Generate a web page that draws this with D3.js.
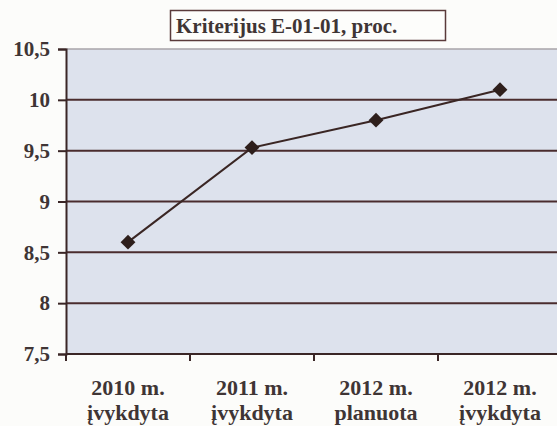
<!DOCTYPE html>
<html><head><meta charset="utf-8">
<script src="https://cdn.jsdelivr.net/npm/d3@7"></script>
<style>
html,body{margin:0;padding:0;background:#fcfcfa;}
svg{display:block;}
text{font-family:"Liberation Serif","DejaVu Serif",serif;font-weight:bold;fill:#3f3535;}
</style></head>
<body>
<svg id="chart" width="557" height="426"></svg>
<script>
const title = "Kriterijus E-01-01, proc.";
const categories = ["2010 m.\nįvykdyta", "2011 m.\nįvykdyta", "2012 m.\nplanuota", "2012 m.\nįvykdyta"];
const values = [8.6, 9.53, 9.8, 10.1];
const yTicks = [7.5, 8, 8.5, 9, 9.5, 10, 10.5];
const yTickLabels = ["7,5", "8", "8,5", "9", "9,5", "10", "10,5"];

const svg = d3.select("#chart");
const pL = 66, pR = 562, pT = 49, pB = 354;
const lineCol = "#3a2626";
const serif = "'Liberation Serif','DejaVu Serif',serif";

const x = d3.scaleBand().domain(categories).range([pL, pR]).padding(0);
const y = d3.scaleLinear().domain([7.5, 10.5]).range([pB, pT]);

// plot background
svg.append("rect").attr("x", pL).attr("y", pT)
  .attr("width", pR - pL).attr("height", pB - pT)
  .attr("fill", "#dde2ed");
// top border (light)
svg.append("line").attr("x1", pL).attr("x2", pR)
  .attr("y1", y(10.5)).attr("y2", y(10.5))
  .attr("stroke", "#a9a4a8").attr("stroke-width", 1.5);

// gridlines
svg.append("g").selectAll("line").data(yTicks.filter(t => t > 7.5 && t < 10.5))
  .join("line")
  .attr("x1", pL).attr("x2", pR)
  .attr("y1", d => y(d)).attr("y2", d => y(d))
  .attr("stroke", "#4a2c2e").attr("stroke-width", 2);

// y axis
const yAxis = d3.axisLeft(y).tickValues(yTicks)
  .tickFormat((d, i) => yTickLabels[i]).tickSize(8).tickPadding(8);
const yg = svg.append("g").attr("transform", `translate(${pL},0)`).call(yAxis)
  .attr("font-family", serif).attr("font-size", 21);
yg.select(".domain").attr("stroke", lineCol).attr("stroke-width", 2);
yg.selectAll(".tick line").attr("stroke", lineCol).attr("stroke-width", 2);
yg.selectAll(".tick text").style("font-size", "21px")
  .style("font-family", serif).style("font-weight", "bold")
  .style("fill", "#3f3535");

// x axis baseline & boundary ticks
svg.append("line").attr("x1", pL).attr("x2", pR)
  .attr("y1", pB).attr("y2", pB)
  .attr("stroke", lineCol).attr("stroke-width", 2);
svg.append("g").selectAll("line").data(categories)
  .join("line")
  .attr("x1", d => x(d)).attr("x2", d => x(d))
  .attr("y1", pB).attr("y2", pB + 7)
  .attr("stroke", lineCol).attr("stroke-width", 2);

// x labels
const xl = svg.append("g").selectAll("text").data(categories).join("text")
  .attr("text-anchor", "middle")
  .attr("x", d => x(d) + x.bandwidth() / 2)
  .attr("y", 395)
  .style("font-size", "22px");
xl.each(function(d) {
  const parts = d.split("\n");
  d3.select(this).selectAll("tspan").data(parts).join("tspan")
    .attr("x", x(d) + x.bandwidth() / 2)
    .attr("dy", (p, i) => i === 0 ? 0 : 25)
    .text(p => p);
});

// line
const line = d3.line()
  .x((d, i) => x(categories[i]) + x.bandwidth() / 2)
  .y(d => y(d));
svg.append("path").datum(values).attr("d", line)
  .attr("fill", "none").attr("stroke", "#3a2624").attr("stroke-width", 2);

// markers
const diamond = d3.symbol().type(d3.symbolSquare).size(110);
svg.append("g").selectAll("path").data(values).join("path")
  .attr("d", diamond)
  .attr("transform", (d, i) => `translate(${x(categories[i]) + x.bandwidth() / 2},${y(d)}) rotate(45)`)
  .attr("fill", "#2e1f1c");

// title box
svg.append("rect").attr("x", 170.5).attr("y", 10.5).attr("width", 275).attr("height", 30)
  .attr("fill", "#fdfdfb").attr("stroke", "#5a3a3a").attr("stroke-width", 1.5);
svg.append("text").attr("x", 176).attr("y", 33).style("font-size", "21px").text(title);
</script>
</body></html>
